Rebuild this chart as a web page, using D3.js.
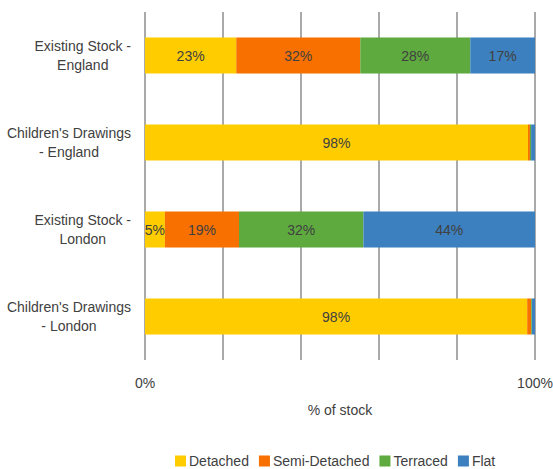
<!DOCTYPE html>
<html>
<head>
<meta charset="utf-8">
<script src="https://cdn.jsdelivr.net/npm/d3@7"></script>
<style>
  body { margin: 0; background: #fff; }
  text { font-family: "Liberation Sans", Arial, sans-serif; }
</style>
</head>
<body>
<svg id="chart" width="553" height="469"></svg>
<script>
// data (% of stock)
let categories = [
    ["Existing Stock -", "England"],
    ["Children's Drawings", "- England"],
    ["Existing Stock -", "London"],
    ["Children's Drawings", "- London"]
]
let keys = ["Detached", "Semi-Detached", "Terraced", "Flat"]
let detached     = [23.4, 98.2, 5.1, 98.0]
let semiDetached = [31.8, 0.5, 19.0, 1.0]
let terraced     = [28.2, 0.3, 31.9, 0.2]
let flat         = [16.6, 1.0, 44.0, 0.8]
let xTickLabels = ["0%", "", "", "", "", "100%"]
let colors = ["#ffcc00", "#f77000", "#5eaa3f", "#3d80bf"]

let rows = categories.map((c, i) => ({
    id: i,
    "Detached": detached[i],
    "Semi-Detached": semiDetached[i],
    "Terraced": terraced[i],
    "Flat": flat[i]
}))

let svg = d3.select("#chart")
let margin = {left: 145, right: 18, top: 12, bottom: 109}
let width = 553 - margin.left - margin.right
let height = 469 - margin.top - margin.bottom
let fs = "14px"

let g = svg.append("g").attr("transform", `translate(${margin.left},${margin.top})`)

let xScale = d3.scaleLinear().domain([0, 100]).range([0, width])
let yScale = d3.scaleBand().domain(rows.map(d => d.id)).range([0, height]).paddingInner(0.586).paddingOuter(0.293)
let colorScale = d3.scaleOrdinal().domain(keys).range(colors)

// grid lines
g.selectAll(".grid")
    .data(d3.range(0, 101, 20))
    .enter().append("line")
    .attr("x1", d => xScale(d)).attr("x2", d => xScale(d))
    .attr("y1", 0).attr("y2", height)
    .attr("stroke", "#555").attr("stroke-width", 1)

let stacked = d3.stack().keys(keys)(rows)

let layers = g.selectAll(".layer")
    .data(stacked)
    .enter().append("g")
    .attr("fill", d => colorScale(d.key))

layers.selectAll("rect")
    .data(d => d)
    .enter().append("rect")
    .attr("x", d => xScale(d[0]))
    .attr("width", d => xScale(d[1]) - xScale(d[0]))
    .attr("y", d => yScale(d.data.id))
    .attr("height", yScale.bandwidth())

// value labels
layers.selectAll("text")
    .data(d => d.filter(p => p[1] - p[0] >= 4))
    .enter().append("text")
    .attr("x", d => (xScale(d[0]) + xScale(d[1])) / 2)
    .attr("y", d => yScale(d.data.id) + yScale.bandwidth() / 2 + 1)
    .attr("dy", "0.35em")
    .attr("text-anchor", "middle")
    .attr("fill", "#404040")
    .style("font-size", fs)
    .text(d => Math.round(d[1] - d[0]) + "%")

// category labels, centred lines, block right edge at 131
let yLab = svg.append("g")
categories.forEach((lines, i) => {
    let t = yLab.append("text")
        .attr("text-anchor", "middle")
        .attr("fill", "#404040")
        .style("font-size", fs)
    let cy = margin.top + yScale(i) + yScale.bandwidth() / 2
    let spans = lines.map((line, j) => t.append("tspan")
        .attr("y", cy + (j - (lines.length - 1) / 2) * 19)
        .attr("dy", "0.35em")
        .text(line))
    let w = d3.max(spans, s => s.node().getComputedTextLength())
    spans.forEach(s => s.attr("x", 131 - w / 2))
})

// x tick labels
g.selectAll(".xtick")
    .data(xTickLabels)
    .enter().append("text")
    .attr("x", (d, i) => xScale(i * 20))
    .attr("y", 376)
    .attr("text-anchor", "middle")
    .attr("fill", "#404040")
    .style("font-size", fs)
    .text(d => d)

g.append("text")
    .attr("x", width / 2)
    .attr("y", 403)
    .attr("text-anchor", "middle")
    .attr("fill", "#404040")
    .style("font-size", fs)
    .text("% of stock")

// legend
let legend = svg.append("g").attr("transform", "translate(175,461)")
let lx = 0
keys.forEach(k => {
    let item = legend.append("g").attr("transform", `translate(${lx},0)`)
    item.append("rect").attr("x", 0).attr("y", -5.5).attr("width", 11).attr("height", 11).attr("fill", colorScale(k))
    let t = item.append("text").attr("x", 14).attr("dy", "0.35em")
        .attr("fill", "#404040").style("font-size", "14px").text(k)
    lx += 14 + t.node().getComputedTextLength() + 10
})
</script>
</body>
</html>
